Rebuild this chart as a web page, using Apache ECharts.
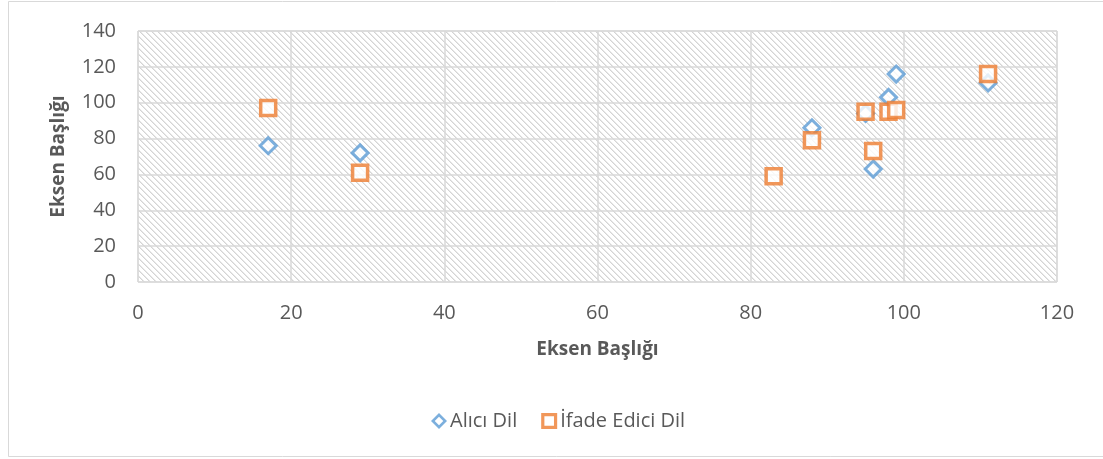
<!DOCTYPE html>
<html>
<head>
<meta charset="utf-8">
<style>
  html, body { margin: 0; padding: 0; background: #ffffff; }
  #chart { width: 1103px; height: 459px; }
</style>
<script src="https://cdn.jsdelivr.net/npm/echarts@6/dist/echarts.min.js"></script>
</head>
<body>
<div id="chart"></div>
<script>
// Series names
const seriesNames = ['Alıcı Dil', 'İfade Edici Dil'];

// Alıcı Dil: [x, y]
const aliciDil = [
  [17, 76], [29, 72], [88, 86], [95, 94], [96, 63],
  [98, 103], [99, 116], [111, 111]
];

// İfade Edici Dil: [x, y]
const ifadeEdiciDil = [
  [17, 97], [29, 61], [83, 59], [88, 79], [95, 95],
  [96, 73], [98, 95], [99, 96], [111, 116]
];

const axisTitle = 'Eksen Başlığı';

// Diagonal hatch used as the plot-area background
function hatchPattern() {
  const c = document.createElement('canvas');
  c.width = 6; c.height = 6;
  const ctx = c.getContext('2d');
  ctx.fillStyle = '#ffffff';
  ctx.fillRect(0, 0, 6, 6);
  for (let i = 0; i < 6; i++) {
    ctx.fillStyle = '#d4d4d4';
    ctx.fillRect(i, i, 1, 1);
    ctx.fillStyle = '#e8e8e8';
    ctx.fillRect((i + 1) % 6, i, 1, 1);
  }
  return c;
}

// Hollow outline icons for the legend (outer shape with a reversed inner hole)
const diamondRing = 'path://M9,0L18,9L9,18L0,9Z M9,4.2L4.2,9L9,13.8L13.8,9Z';
const squareRing = 'path://M0,0H16V16H0Z M3.2,3.2V12.8H12.8V3.2Z';

const font = '"Open Sans", "Noto Sans", sans-serif';
const textColor = '#595959';
const gridColor = '#d9d9d9';
const blue = '#5b9bd5';
const orange = '#ed7d31';

const chart = echarts.init(document.getElementById('chart'), null, { renderer: 'canvas' });

chart.setOption({
  animation: false,
  backgroundColor: '#ffffff',
  textStyle: { fontFamily: font },
  graphic: [{
    type: 'rect',
    silent: true,
    shape: { x: 8.5, y: 1.5, width: 1200, height: 455 },
    style: { fill: null, stroke: '#d9d9d9', lineWidth: 1 },
    z: -1
  }],
  grid: {
    left: 138, right: 46, top: 31, bottom: 177,
    show: true,
    backgroundColor: { image: hatchPattern(), repeat: 'repeat' },
    borderColor: gridColor,
    borderWidth: 1
  },
  legend: {
    left: 426,
    top: 406,
    itemWidth: 16,
    itemHeight: 16,
    itemGap: 24,
    textStyle: { color: textColor, fontSize: 20, fontFamily: font, padding: [0, 0, 0, -2] },
    data: [
      { name: seriesNames[0], icon: diamondRing, itemStyle: { color: blue, borderWidth: 0 } },
      { name: seriesNames[1], icon: squareRing, itemStyle: { color: orange, borderWidth: 0 } }
    ]
  },
  xAxis: {
    type: 'value',
    min: 0, max: 120, interval: 20,
    name: axisTitle,
    nameLocation: 'middle',
    nameGap: 58,
    nameTextStyle: { color: textColor, fontSize: 19, fontWeight: 'bold', fontFamily: font },
    axisLine: { show: false },
    axisTick: { show: false },
    axisLabel: { color: textColor, fontSize: 20, margin: 21, fontFamily: font },
    splitLine: { show: true, lineStyle: { color: gridColor, width: 1.5 } }
  },
  yAxis: {
    type: 'value',
    min: 0, max: 140, interval: 20,
    name: axisTitle,
    nameLocation: 'middle',
    nameGap: 70,
    nameRotate: 90,
    nameTextStyle: { color: textColor, fontSize: 19, fontWeight: 'bold', fontFamily: font },
    axisLine: { show: false },
    axisTick: { show: false },
    axisLabel: { color: textColor, fontSize: 20, margin: 22, fontFamily: font },
    splitLine: { show: true, lineStyle: { color: gridColor, width: 1.5 } }
  },
  series: [
    {
      name: seriesNames[0],
      type: 'scatter',
      data: aliciDil,
      symbol: 'diamond',
      symbolSize: 16,
      itemStyle: { color: '#ffffff', borderColor: blue, borderWidth: 3 },
      z: 2
    },
    {
      name: seriesNames[1],
      type: 'scatter',
      data: ifadeEdiciDil,
      symbol: 'rect',
      symbolSize: 15,
      itemStyle: { color: '#ffffff', borderColor: orange, borderWidth: 3.5 },
      z: 3
    }
  ]
});
</script>
</body>
</html>
